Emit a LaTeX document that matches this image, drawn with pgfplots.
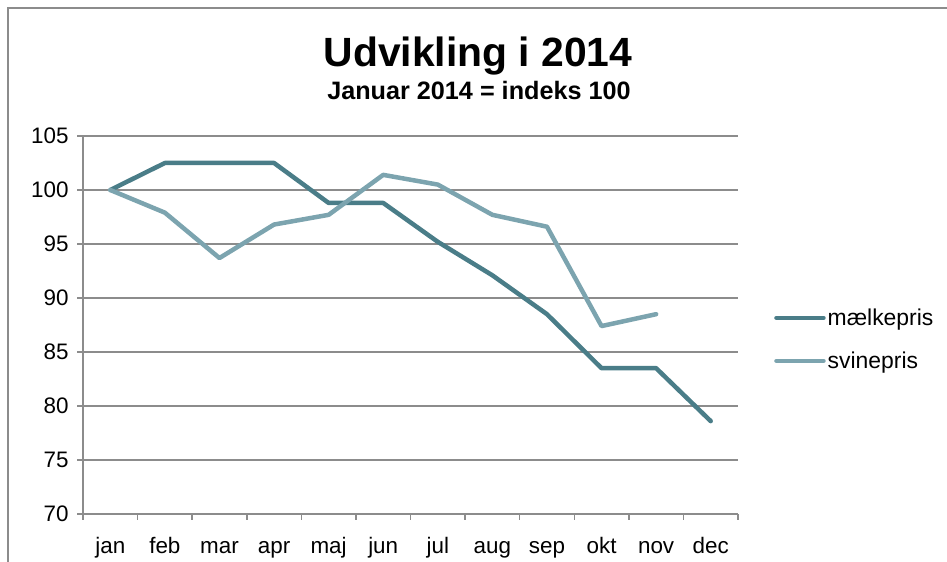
\documentclass[border=0pt]{standalone}
\usepackage{fontspec}
\setmainfont{Liberation Sans}
\usepackage{pgfplots}
\pgfplotsset{compat=1.18}
\definecolor{milk}{HTML}{4A7D88}
\definecolor{pig}{HTML}{7CA4AF}
\definecolor{gridc}{HTML}{8C8C8C}
\begin{document}
\begin{tikzpicture}[x=1bp,y=1bp]
\useasboundingbox (0,0) rectangle (947,562);
\draw[gridc, line width=1.5bp] (8,0) -- (8,554) -- (947,554);
\node[font=\bfseries\fontsize{41}{41}\selectfont, anchor=base, inner sep=0pt] at (478,495) {Udvikling i 2014};
\node[font=\bfseries\fontsize{25.3}{25.3}\selectfont, anchor=base, inner sep=0pt] at (479,462) {Januar 2014 = indeks 100};
\begin{axis}[
  at={(83bp,48bp)}, anchor=south west, scale only axis,
  width=655bp, height=378bp,
  xmin=-0.5, xmax=11.5, ymin=70, ymax=105,
  xtick={0,...,11},
  xticklabels={jan,feb,mar,apr,maj,jun,jul,aug,sep,okt,nov,dec},
  minor xtick={-0.5,0.5,...,11.5},
  ytick={70,75,...,105},
  axis x line*=bottom, axis y line*=left,
  axis line style={gridc, line width=1.5bp, -},
  ymajorgrids, grid style={gridc, line width=1.5bp},
  tick align=outside,
  major tick length=6bp, minor tick length=6bp,
  major x tick style={draw=none},
  minor x tick style={gridc, line width=1.5bp},
  major y tick style={gridc, line width=1.5bp},
  /pgf/number format/assume math mode=true,
  tick label style={font=\fontsize{22.5}{22.5}\selectfont},
  yticklabel style={xshift=-5bp},
  xticklabel style={anchor=base, yshift=-34bp, inner sep=0pt},
  legend style={draw=none, fill=none, at={(1.055,0.462)}, anchor=west,
    font=\fontsize{23}{23}\selectfont, row sep=21bp, inner sep=0pt,
    nodes={inner sep=2bp}},
  legend cell align=left,
  legend image code/.code={\draw[#1, line cap=round] (0bp,0bp) -- (47bp,0bp);},
]
\addplot[milk, line width=4.5bp, line join=round, line cap=round] coordinates {
(0,100) (1,102.5) (2,102.5) (3,102.5) (4,98.8) (5,98.8) (6,95.2) (7,92.1) (8,88.5) (9,83.5) (10,83.5) (11,78.6)};
\addlegendentry{mælkepris}
\addplot[pig, line width=4.5bp, line join=round, line cap=round] coordinates {
(0,100) (1,97.9) (2,93.7) (3,96.8) (4,97.7) (5,101.4) (6,100.5) (7,97.7) (8,96.6) (9,87.4) (10,88.5)};
\addlegendentry{svinepris}
\end{axis}
\end{tikzpicture}
\end{document}
